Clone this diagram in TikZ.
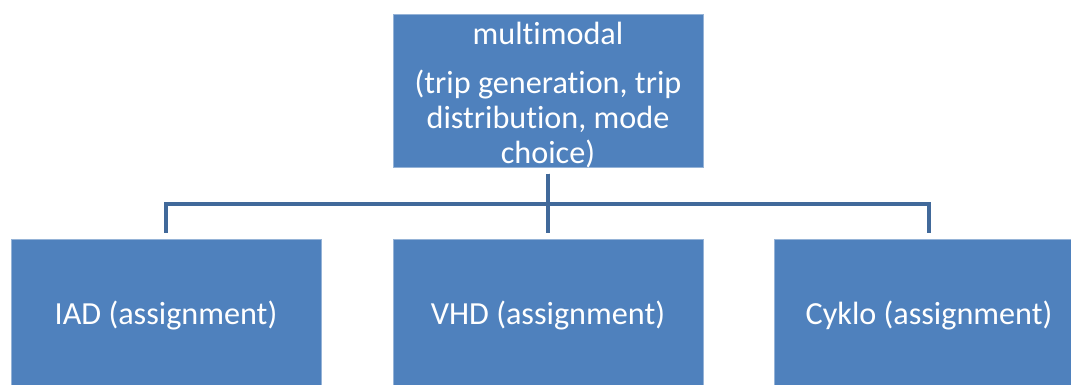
\documentclass[tikz,border=0pt]{standalone}
\usepackage{fontspec}
\setmainfont[Ligatures=NoCommon]{Carlito}
\definecolor{boxblue}{HTML}{4F81BD}
\definecolor{linkblue}{HTML}{41699A}
\begin{document}
\begin{tikzpicture}[x=1pt,y=-1pt,
  box/.style={rectangle, fill=boxblue, draw=boxblue!60!white, line width=0.6pt,
    minimum width=310pt, minimum height=152pt, inner sep=0pt, outer sep=0pt,
    text=white, align=center, font=\fontsize{32.2pt}{35pt}\selectfont},
  conn/.style={draw=linkblue, line width=4pt, line join=miter, shorten <=6pt, shorten >=6pt}]
\useasboundingbox (0,0) rectangle (1071,385);
\clip (0,0) rectangle (1071,385);
\node[box] (top) at (548,91) {\rule{0pt}{30pt}multimodal\\[14pt](trip generation, trip\\distribution, mode\\choice)};
\node[box] (iad) at (166,315) {IAD (assignment)};
\node[box] (vhd) at (548,315) {VHD (assignment)};
\node[box] (cyklo) at (929,315) {Cyklo (assignment)};
\coordinate (bus) at (0,204);
\draw[conn] (top.south) -- (top.south |- bus) -| (iad.north);
\draw[conn] (top.south) -- (top.south |- bus) -| (cyklo.north);
\draw[conn] (top.south) -- (vhd.north);
\end{tikzpicture}
\end{document}
